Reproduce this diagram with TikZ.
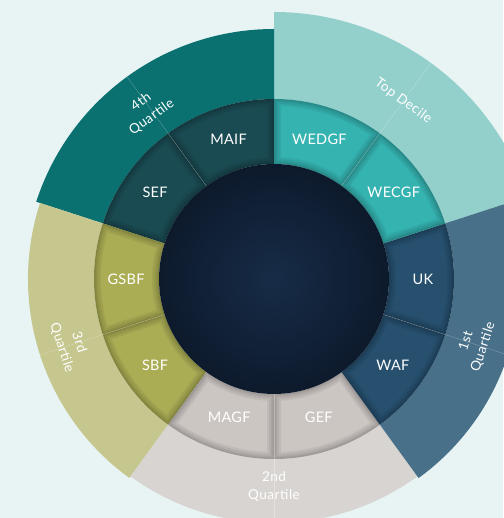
\documentclass[tikz,border=0pt]{standalone}
\usepackage{fontspec}
\setmainfont{Lato}
\usetikzlibrary{calc}

\definecolor{pagebg}{HTML}{E8F4F4}
\definecolor{topouter}{HTML}{93D0CC}
\definecolor{topinner}{HTML}{35B3B1}
\definecolor{q4outer}{HTML}{0B7070}
\definecolor{q4inner}{HTML}{1B4B52}
\definecolor{q3outer}{HTML}{C6C68F}
\definecolor{q3inner}{HTML}{AAAD54}
\definecolor{q2outer}{HTML}{D8D4D1}
\definecolor{q2inner}{HTML}{CCC6C3}
\definecolor{q1outer}{HTML}{487089}
\definecolor{q1inner}{HTML}{27506F}
\definecolor{hubin}{HTML}{172C47}
\definecolor{hubout}{HTML}{0D1A2C}

% ring piece: start angle, end angle, outer radius, inner radius
\newcommand\ringpart[4]{(#1:#3) arc[start angle=#1, end angle=#2, radius=#3] -- (#2:#4) arc[start angle=#2, end angle=#1, radius=#4] -- cycle}

\begin{document}
\begin{tikzpicture}[x=1pt, y=1pt,
  fundlabel/.style={text=white, font=\fontsize{14.5}{16}\selectfont\addfontfeatures{LetterSpace=2}},
  bandlabel/.style={text=white, align=center, inner sep=1pt, font=\fontsize{13.5}{18}\selectfont\addfontfeatures{LetterSpace=4}},
  hub/.style={circle, minimum size=230pt, inner sep=0pt, inner color=hubin, outer color=hubout}]
  \useasboundingbox (-274,-239) rectangle (229,279);
  \fill[pagebg] (-274,-239) rectangle (229,279);

  % outer band
  \foreach \a/\b/\r/\col in {18/90/267/topouter, 90/162/250/q4outer, 162/234/246/q3outer,
                             234/306/244/q2outer, 306/378/246/q1outer}
    \fill[\col] \ringpart{\a}{\b}{\r}{180};

  % middle band, with a soft inner shadow
  \foreach \a/\col in {90/q4inner, 126/q4inner, 162/q3inner, 198/q3inner, 234/q2inner,
                       270/q2inner, 306/q1inner, 342/q1inner, 18/topinner, 54/topinner} {
    \pgfmathsetmacro\b{\a+36}
    \fill[\col] \ringpart{\a}{\b}{180}{115};
    \begin{scope}
      \clip \ringpart{\a}{\b}{180}{115};
      \foreach \w in {14,10,6,3}
        \draw[black, opacity=0.06, line width=\w pt] \ringpart{\a}{\b}{180}{115};
    \end{scope}
  }

  % hairlines through each band
  \foreach \a/\r in {54/267, 126/250, 198/246, 270/244, 342/246}
    \draw[white, opacity=0.3, line width=0.4pt] (\a:115) -- (\a:\r);

  \node[hub] (hub) at (0,0) {};

  \node[fundlabel] (maif)  at (108:147) {MAIF};
  \node[fundlabel] (sef)   at (144:147) {SEF};
  \node[fundlabel] (gsbf)  at (180:148) {GSBF};
  \node[fundlabel] (sbf)   at (216:147) {SBF};
  \node[fundlabel] (magf)  at (252:145) {MAGF};
  \node[fundlabel] (gef)   at (288:145) {GEF};
  \node[fundlabel] (waf)   at (324:147) {WAF};
  \node[fundlabel] (uk)    at (0:149)   {UK};
  \node[fundlabel] (wecgf) at (36:148)  {WECGF};
  \node[fundlabel] (wedgf) at (72:147)  {WEDGF};

  \node[bandlabel, rotate=-36] (topdecile) at (54:220)  {Top Decile};
  \node[bandlabel, rotate=36]  (fourthq)   at (127:212) {4th\\Quartile};
  \node[bandlabel, rotate=-72] (thirdq)    at (198:214) {3rd\\Quartile};
  \node[bandlabel]             (secondq)   at (270:208) {2nd\\Quartile};
  \node[bandlabel, rotate=72]  (firstq)    at (342:211) {1st\\Quartile};
\end{tikzpicture}
\end{document}
